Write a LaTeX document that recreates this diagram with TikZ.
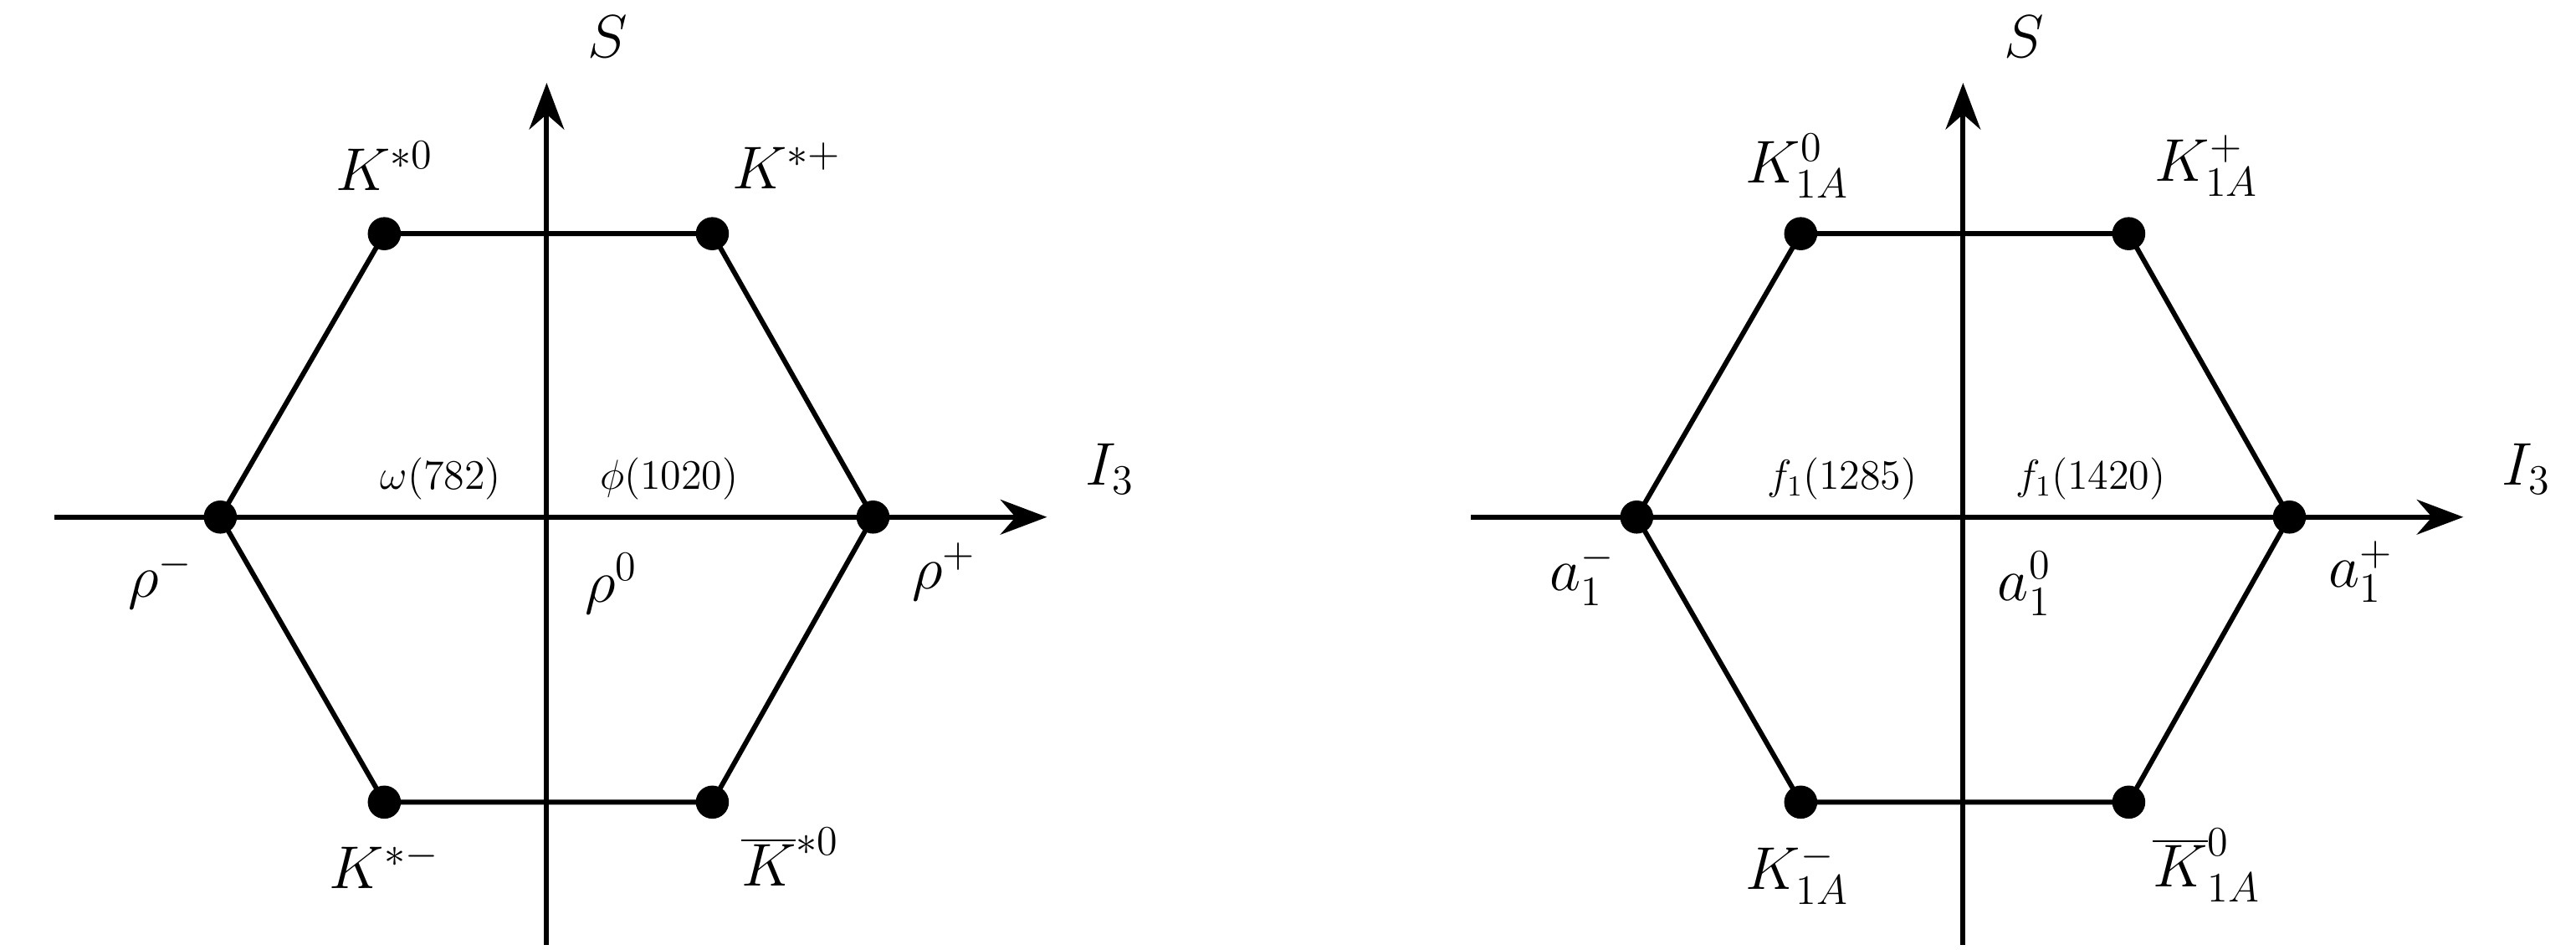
\documentclass[tikz,border=0pt]{standalone}
\usetikzlibrary{arrows.meta}
\begin{document}
\begin{tikzpicture}[x=0.02cm,y=-0.02cm,
  ln/.style={line width=1.7pt},
  ax/.style={line width=1.7pt,-{Stealth[length=16pt,width=12pt]}},
  dot/.style={circle,fill=black,inner sep=0pt,minimum size=0.4cm},
  big/.style={font=\fontsize{21}{25}\selectfont},
  sm/.style={font=\fontsize{14}{17}\selectfont}]
\useasboundingbox (0,0) rectangle (1555,573);
\foreach \cx/\p in {330/L,1185/R}{
  \node[dot] (\p l) at (\cx-197,312) {};
  \node[dot] (\p r) at (\cx+197,312) {};
  \node[dot] (\p tl) at (\cx-98,141) {};
  \node[dot] (\p tr) at (\cx+100,141) {};
  \node[dot] (\p bl) at (\cx-98,484) {};
  \node[dot] (\p br) at (\cx+100,484) {};
  \coordinate (\p x0) at (\cx-297,312);
  \coordinate (\p x1) at (\cx+302,312);
  \coordinate (\p y0) at (\cx,570);
  \coordinate (\p y1) at (\cx,50);
  \draw[ax] (\p x0) -- (\p x1);
  \draw[ax] (\p y0) -- (\p y1);
  \draw[ln] (\p l.center) -- (\p tl.center) -- (\p tr.center) -- (\p r.center) -- (\p br.center) -- (\p bl.center) -- cycle;
  \node[big] (\p S) at (\cx+37,22) {$S$};
  \node[big] (\p I) at (\cx+340,283) {$I_3$};
}
\node[big] (a1) at (232,100) {$K^{*0}$};
\node[big] (a2) at (475,100) {$K^{*+}$};
\node[big] (a3) at (232,522) {$K^{*-}$};
\node[big] (a4) at (477,517) {$\overline{K}^{*0}$};
\node[big] (a5) at (97,350) {$\rho^-$};
\node[big] (a6) at (570,345) {$\rho^+$};
\node[big] (a7) at (369,352) {$\rho^0$};
\node[sm] (a8) at (266,289) {$\omega(782)$};
\node[sm] (a9) at (404,289) {$\phi(1020)$};
\node[big] (b1) at (1085,100) {$K^0_{1A}$};
\node[big] (b2) at (1332,100) {$K^+_{1A}$};
\node[big] (b3) at (1085,527) {$K^-_{1A}$};
\node[big] (b4) at (1332,522) {$\overline{K}^0_{1A}$};
\node[big] (b5) at (955,347) {$a_1^-$};
\node[big] (b6) at (1425,345) {$a_1^+$};
\node[big] (b7) at (1222,352) {$a_1^0$};
\node[sm] (b8) at (1112,289) {$f_1(1285)$};
\node[sm] (b9) at (1262,289) {$f_1(1420)$};
\end{tikzpicture}
\end{document}
